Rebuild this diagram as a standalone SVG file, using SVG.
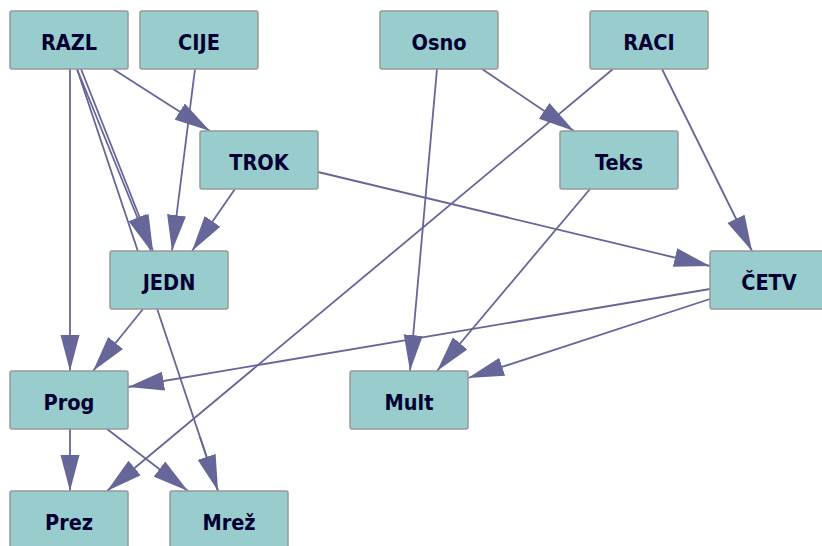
<svg xmlns="http://www.w3.org/2000/svg" width="822" height="546" viewBox="0 0 822 546">
<style>
.e{stroke:#666699;stroke-width:1.8;fill:none;marker-end:url(#ah)}
.p{stroke:#666699;stroke-width:1.8;fill:none}
.n rect{fill:#99CCCC;stroke:#999999;stroke-width:1.5}
.n text{font-family:"DejaVu Sans Condensed","DejaVu Sans",sans-serif;font-stretch:condensed;font-weight:bold;font-size:21.5px;fill:#000033;text-anchor:middle}
</style>
<defs>
<marker id="ah" viewBox="0 0 36 20" refX="36" refY="10" markerWidth="36" markerHeight="20" markerUnits="userSpaceOnUse" orient="auto">
<path d="M0,0.5 L36,10 L0,19.5 Z" fill="#666699"/>
</marker>
</defs>
<rect width="822" height="546" fill="#ffffff"/>
<g id="connectors">
<line class="p" x1="77" y1="69" x2="218" y2="491"/>
<path class="e" d="M70,69 L70,371"/>
<path class="e" d="M113,69 L210,131"/>
<path class="e" d="M77,69 L151,251"/>
<path class="e" d="M81,69 L153,251"/>
<path class="e" d="M195,69 L172,251"/>
<path class="e" d="M235,189 L192,251"/>
<path class="e" d="M318,172 L710,266"/>
<path class="e" d="M482,69 L574,131"/>
<path class="e" d="M437,69 L410,371"/>
<path class="e" d="M613,69 L107,491"/>
<path class="e" d="M662,69 L752,251"/>
<path class="e" d="M590,189 L437,371"/>
<path class="e" d="M710,289 L128,387"/>
<path class="e" d="M710,299 L468,378"/>
<path class="e" d="M143,309 L93,371"/>
<path class="e" d="M70,429 L70,491"/>
<path class="e" d="M107,429 L188,491"/>
<path class="e" d="M200,437 L218,491"/>
</g>
<g id="RAZL" class="n"><rect x="10" y="11" width="118" height="58" rx="2"/><text x="69" y="50">RAZL</text></g>
<g id="CIJE" class="n"><rect x="140" y="11" width="118" height="58" rx="2"/><text x="199" y="50">CIJE</text></g>
<g id="Osno" class="n"><rect x="380" y="11" width="118" height="58" rx="2"/><text x="439" y="50">Osno</text></g>
<g id="RACI" class="n"><rect x="590" y="11" width="118" height="58" rx="2"/><text x="649" y="50">RACI</text></g>
<g id="TROK" class="n"><rect x="200" y="131" width="118" height="58" rx="2"/><text x="259" y="170">TROK</text></g>
<g id="Teks" class="n"><rect x="560" y="131" width="118" height="58" rx="2"/><text x="619" y="170">Teks</text></g>
<g id="JEDN" class="n"><rect x="110" y="251" width="118" height="58" rx="2"/><text x="169" y="290">JEDN</text></g>
<g id="CETV" class="n"><rect x="710" y="251" width="118" height="58" rx="2"/><text x="769" y="290">ČETV</text></g>
<g id="Prog" class="n"><rect x="10" y="371" width="118" height="58" rx="2"/><text x="69" y="410">Prog</text></g>
<g id="Mult" class="n"><rect x="350" y="371" width="118" height="58" rx="2"/><text x="409" y="410">Mult</text></g>
<g id="Prez" class="n"><rect x="10" y="491" width="118" height="58" rx="2"/><text x="69" y="530">Prez</text></g>
<g id="Mrez" class="n"><rect x="170" y="491" width="118" height="58" rx="2"/><text x="229" y="530">Mrež</text></g>
</svg>
